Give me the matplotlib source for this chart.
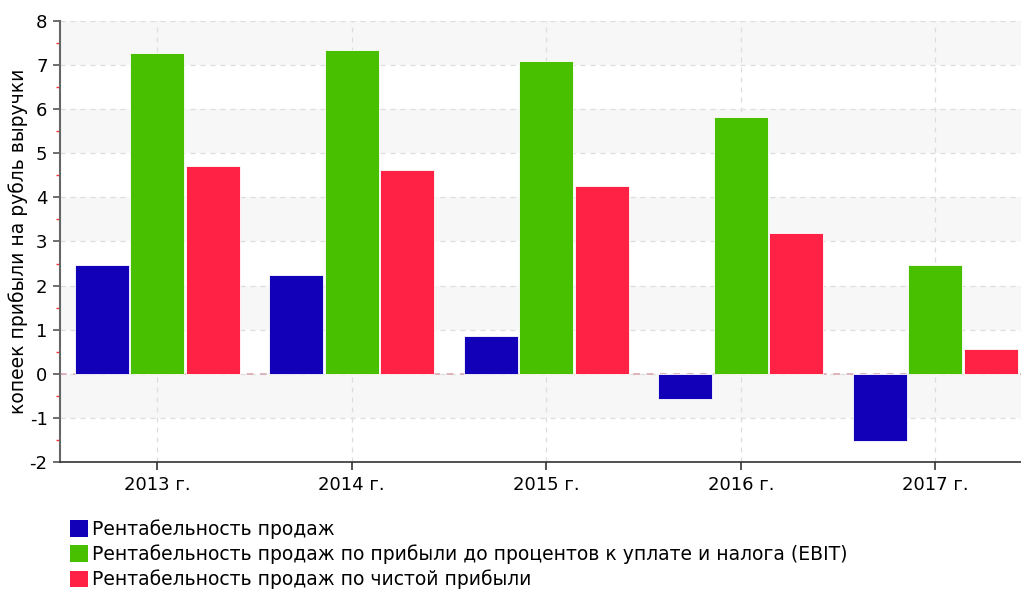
import matplotlib
matplotlib.use("Agg")
import matplotlib.pyplot as plt
from matplotlib.patches import Patch
from matplotlib.ticker import MultipleLocator
import numpy as np

categories = ["2013 г.", "2014 г.", "2015 г.", "2016 г.", "2017 г."]
series_names = [
    "Рентабельность продаж",
    "Рентабельность продаж по прибыли до процентов к уплате и налога (EBIT)",
    "Рентабельность продаж по чистой прибыли",
]
sales = [2.47, 2.24, 0.86, -0.57, -1.52]
ebit = [7.28, 7.35, 7.10, 5.83, 2.47]
net = [4.72, 4.63, 4.26, 3.20, 0.57]
colors = ["#1100b8", "#48c000", "#ff2244"]
ylabel = "копеек прибыли на рубль выручки"

plt.rcParams['font.family'] = ['DejaVu Sans']
plt.rcParams['axes.unicode_minus'] = False
fig = plt.figure(figsize=(10.21, 5.89), dpi=100)
ax = fig.add_axes([60/1021, 1-462/589, 1-60/1021, 441/589])

x = np.arange(len(categories))
w = 0.278
offs = [-0.285, 0.0, 0.285]
for vals, off, c in zip([sales, ebit, net], offs, colors):
    ax.bar(x + off, vals, width=w, color=c, edgecolor='white', linewidth=0.6, zorder=3)

ax.set_ylim(-2, 8)
ax.set_xlim(-0.5, 4.44)
for lo in [7, 5, 3, 1, -1]:
    ax.axhspan(lo, lo + 1, color='#f7f7f7', zorder=0, lw=0)

ax.yaxis.set_major_locator(MultipleLocator(1))
ax.yaxis.set_minor_locator(MultipleLocator(0.5))
ax.grid(True, which='major', axis='both', linestyle=(0, (4, 4)), color='#dddddd', linewidth=0.9, zorder=1)
ax.axhline(0, color='#d8a8b0', linestyle=(0, (4, 4)), linewidth=1.2, zorder=2)

ax.set_xticks(x)
ax.set_xticklabels(categories)
ax.tick_params(axis='both', labelsize=13, color='#333333')
ax.tick_params(axis='y', which='major', length=5, width=1.2, color='#555555', pad=4)
ax.tick_params(axis='y', which='minor', length=3, width=1.0, color='#ff3030')
ax.tick_params(axis='x', which='major', length=6, width=1.2, color='#333333', pad=4)
for s in ['top', 'right']:
    ax.spines[s].set_visible(False)
ax.spines['left'].set_color('#666666')
ax.spines['left'].set_linewidth(1.5)
ax.spines['bottom'].set_color('#333333')
ax.spines['bottom'].set_linewidth(1.2)
ax.set_ylabel(ylabel, fontsize=13.5, va='center', ha='center')
ax.yaxis.set_label_coords(-42/961, (462-241)/441)

handles = [Patch(facecolor=c, edgecolor='none') for c in colors]
fig.legend(handles, series_names, loc='upper left', bbox_to_anchor=(70/1021, 1-519/589),
           frameon=False, fontsize=13.5, handlelength=0.95, handleheight=1.0,
           handletextpad=0.2, labelspacing=0.3, borderpad=0, borderaxespad=0)

fig.savefig("out.png", dpi=100)
